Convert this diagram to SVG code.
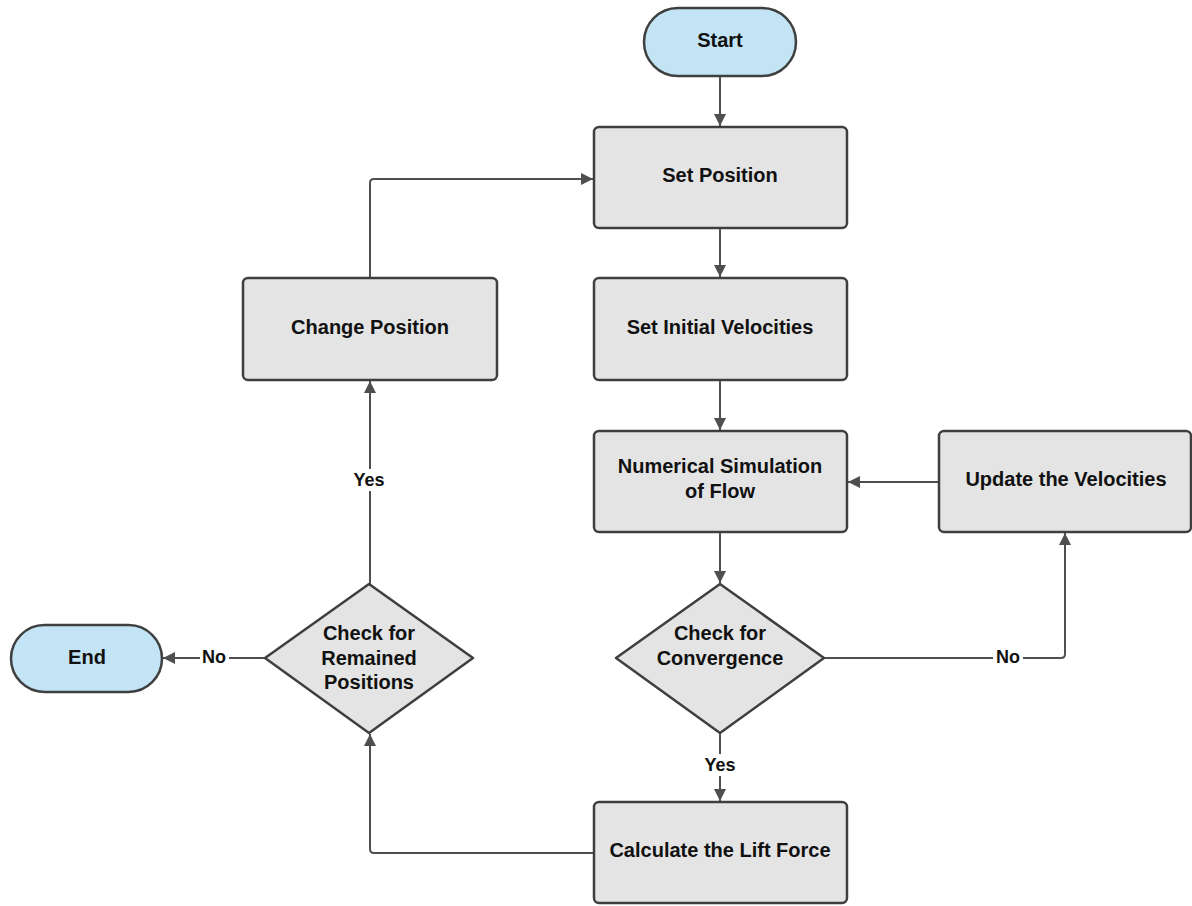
<svg xmlns="http://www.w3.org/2000/svg" width="1192" height="906" viewBox="0 0 1192 906">
<style>
.box{fill:#e4e4e4;stroke:#3f3f3f;stroke-width:2.5}
.term{fill:#c3e4f5;stroke:#3f3f3f;stroke-width:2.5}
.t{font-family:"Liberation Sans",Arial,sans-serif;font-weight:bold;font-size:20px;fill:#111;text-anchor:middle;dominant-baseline:central}
.lbl{font-family:"Liberation Sans",Arial,sans-serif;font-weight:bold;font-size:18px;fill:#111;text-anchor:middle;dominant-baseline:central}
.c{fill:none;stroke:#4f4f4f;stroke-width:2;stroke-linejoin:round}
</style>
<defs>
<marker id="ah" viewBox="0 0 10 10" refX="10" refY="5" markerWidth="12" markerHeight="12" markerUnits="userSpaceOnUse" orient="auto">
<path d="M0,0 L10,5 L0,10 z" fill="#4f4f4f"/>
</marker>
</defs>
<rect width="1192" height="906" fill="#fff"/>
<g id="connectors">
<path class="c" d="M720,77 V126" marker-end="url(#ah)"/>
<path class="c" d="M720,229 V277" marker-end="url(#ah)"/>
<path class="c" d="M720,381 V430" marker-end="url(#ah)"/>
<path class="c" d="M720,533 V583" marker-end="url(#ah)"/>
<path class="c" d="M720,734 V801" marker-end="url(#ah)"/>
<path class="c" d="M825,658 H1061 Q1065,658 1065,654 V533" marker-end="url(#ah)"/>
<path class="c" d="M939,482 H848" marker-end="url(#ah)"/>
<path class="c" d="M594,853 H374 Q370,853 370,849 V734" marker-end="url(#ah)"/>
<path class="c" d="M370,584 V381" marker-end="url(#ah)"/>
<path class="c" d="M265,658 H163" marker-end="url(#ah)"/>
<path class="c" d="M370,278 V183 Q370,179 374,179 H593" marker-end="url(#ah)"/>
<rect x="701" y="754" width="38" height="22" fill="#fff"/>
<text class="lbl" x="720" y="765">Yes</text>
<rect x="993" y="647" width="30" height="21" fill="#fff"/>
<text class="lbl" x="1008" y="657">No</text>
<rect x="350" y="469" width="38" height="22" fill="#fff"/>
<text class="lbl" x="369" y="480">Yes</text>
<rect x="200" y="647" width="29" height="21" fill="#fff"/>
<text class="lbl" x="214" y="657">No</text>
</g>
<g id="start">
<rect class="term" x="644" y="8" width="152" height="68" rx="34"/>
<text class="t" x="720" y="40">Start</text>
</g>
<g id="set-position">
<rect class="box" x="594" y="127" width="253" height="101" rx="5"/>
<text class="t" x="720" y="175">Set Position</text>
</g>
<g id="change-position">
<rect class="box" x="243" y="278" width="254" height="102" rx="5"/>
<text class="t" x="370" y="327">Change Position</text>
</g>
<g id="set-initial-velocities">
<rect class="box" x="594" y="278" width="253" height="102" rx="5"/>
<text class="t" x="720" y="327">Set Initial Velocities</text>
</g>
<g id="numerical-simulation">
<rect class="box" x="594" y="431" width="253" height="101" rx="5"/>
<text class="t" x="720" y="466">Numerical Simulation</text>
<text class="t" x="720" y="491">of Flow</text>
</g>
<g id="update-velocities">
<rect class="box" x="939" y="431" width="252" height="101" rx="5"/>
<text class="t" x="1066" y="479">Update the Velocities</text>
</g>
<g id="check-convergence">
<path class="box" d="M720,584 L824,658 L720,733 L616,658 Z" stroke-linejoin="round"/>
<text class="t" x="720" y="633">Check for</text>
<text class="t" x="720" y="658">Convergence</text>
</g>
<g id="check-remained">
<path class="box" d="M369,584 L473,658 L369,733 L265,658 Z" stroke-linejoin="round"/>
<text class="t" x="369" y="633">Check for</text>
<text class="t" x="369" y="658">Remained</text>
<text class="t" x="369" y="682">Positions</text>
</g>
<g id="end">
<rect class="term" x="11" y="625" width="151" height="67" rx="33.5"/>
<text class="t" x="87" y="657">End</text>
</g>
<g id="calculate-lift">
<rect class="box" x="594" y="802" width="253" height="101" rx="5"/>
<text class="t" x="720" y="850">Calculate the Lift Force</text>
</g>
</svg>
